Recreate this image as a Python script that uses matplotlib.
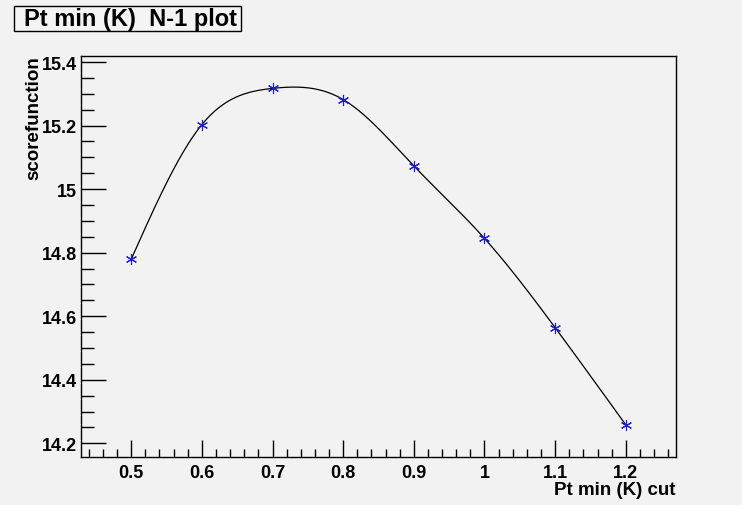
import numpy as np
import matplotlib
matplotlib.use("Agg")
import matplotlib.pyplot as plt
from matplotlib.ticker import MultipleLocator, FixedLocator
from matplotlib.patches import Rectangle

# Data
pt_cut = [0.5, 0.6, 0.7, 0.8, 0.9, 1.0, 1.1, 1.2]
score = [14.779, 15.203, 15.317, 15.282, 15.073, 14.845, 14.564, 14.258]
xticks = [0.5, 0.6, 0.7, 0.8, 0.9, 1.0, 1.1, 1.2]
xticklabels = ["0.5", "0.6", "0.7", "0.8", "0.9", "1", "1.1", "1.2"]
yticks = [14.2, 14.4, 14.6, 14.8, 15.0, 15.2, 15.4]
yticklabels = ["14.2", "14.4", "14.6", "14.8", "15", "15.2", "15.4"]
title = "Pt min (K)  N-1 plot"
xlabel = "Pt min (K) cut"
ylabel = "scorefunction"


def natural_spline(x, y, xs):
    x = np.asarray(x, float); y = np.asarray(y, float)
    n = len(x)
    h = np.diff(x)
    A = np.zeros((n, n)); b = np.zeros(n)
    A[0, 0] = 1; A[-1, -1] = 1
    for i in range(1, n - 1):
        A[i, i - 1] = h[i - 1]
        A[i, i] = 2 * (h[i - 1] + h[i])
        A[i, i + 1] = h[i]
        b[i] = 3 * ((y[i + 1] - y[i]) / h[i] - (y[i] - y[i - 1]) / h[i - 1])
    c = np.linalg.solve(A, b)
    bb = np.zeros(n - 1); d = np.zeros(n - 1)
    for i in range(n - 1):
        bb[i] = (y[i + 1] - y[i]) / h[i] - h[i] * (2 * c[i] + c[i + 1]) / 3
        d[i] = (c[i + 1] - c[i]) / (3 * h[i])
    idx = np.clip(np.searchsorted(x, xs) - 1, 0, n - 2)
    dx = xs - x[idx]
    return y[idx] + bb[idx] * dx + c[idx] * dx ** 2 + d[idx] * dx ** 3


plt.rcParams['font.family'] = ['Liberation Sans', 'DejaVu Sans']
bg = "#f2f2f2"
fig = plt.figure(figsize=(7.42, 5.06), dpi=100, facecolor=bg)
ax = fig.add_axes([81 / 742, 1 - 458 / 506, 595 / 742, 401 / 506])
ax.set_facecolor(bg)

xs = np.linspace(pt_cut[0], pt_cut[-1], 400)
ax.plot(xs, natural_spline(pt_cut, score, xs), color="black", lw=0.9)
ax.plot(pt_cut, score, linestyle="none", marker=(6, 2, 0), markersize=8,
        color="#1c1cd0", markeredgewidth=0.8)

ax.set_xlim(0.429, 1.271)
ax.set_ylim(14.157, 15.419)
ax.xaxis.set_major_locator(FixedLocator(xticks))
ax.set_xticklabels(xticklabels)
ax.yaxis.set_major_locator(FixedLocator(yticks))
ax.set_yticklabels(yticklabels)
ax.xaxis.set_minor_locator(MultipleLocator(0.02))
ax.yaxis.set_minor_locator(MultipleLocator(0.05))
ax.tick_params(axis="x", which="major", direction="in", length=12, width=1,
               labelsize=13, pad=5, top=False)
ax.tick_params(axis="x", which="minor", direction="in", length=6, width=1, top=False)
ax.tick_params(axis="y", which="major", direction="in", length=18, width=1,
               labelsize=13, pad=3, right=False)
ax.tick_params(axis="y", which="minor", direction="in", length=9, width=1, right=False)
for lab in ax.get_xticklabels() + ax.get_yticklabels():
    lab.set_fontweight("bold")
for s in ax.spines.values():
    s.set_linewidth(1.0)
    s.set_color("black")

fig.text(676 / 742, 1 - 491 / 506, xlabel, ha="right", va="center",
         fontsize=13.5, fontweight="bold")
fig.text(34 / 742, 1 - 56 / 506, ylabel, ha="center", va="top",
         rotation=90, fontsize=13.5, fontweight="bold")

# title box
fig.patches.append(Rectangle((14 / 742, 1 - 32 / 506), 227 / 742, 25 / 506,
                             transform=fig.transFigure, facecolor="#f4f4f4",
                             edgecolor="black", lw=1.0))
fig.text(131 / 742, 1 - 19.5 / 506, title, ha="center", va="center",
         fontsize=17, fontweight="bold")

fig.savefig("out.png", dpi=100, facecolor=bg)
